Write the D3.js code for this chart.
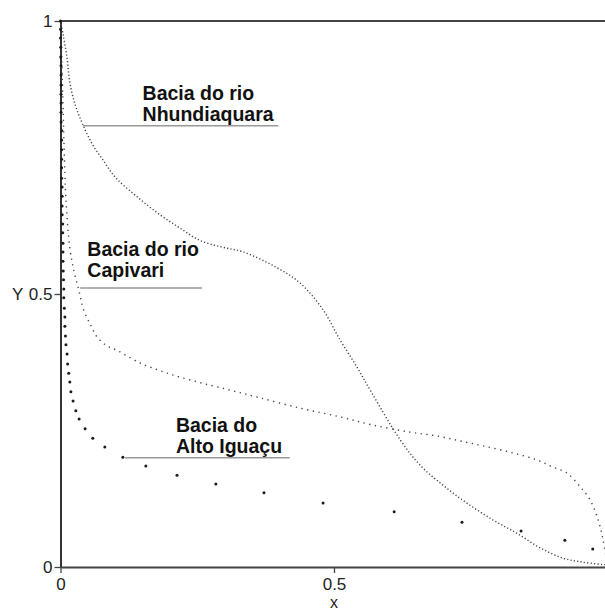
<!DOCTYPE html>
<html>
<head>
<meta charset="utf-8">
<script src="https://cdn.jsdelivr.net/npm/d3@7"></script>
<style>
  html, body { margin: 0; padding: 0; background: #fff; }
  svg { display: block; }
  text { font-family: "Liberation Sans", Arial, sans-serif; }
</style>
</head>
<body>
<div id="chart"></div>
<script>
// ---- Data ----
const nhundiaquara = [
  [0,1],[0.005,0.974],[0.012,0.932],[0.017,0.888],[0.027,0.846],[0.041,0.810],
  [0.059,0.773],[0.078,0.745],[0.100,0.714],[0.140,0.678],[0.182,0.645],[0.218,0.621],
  [0.255,0.598],[0.295,0.586],[0.334,0.577],[0.396,0.548],[0.438,0.520],[0.480,0.471],
  [0.511,0.416],[0.542,0.366],[0.569,0.319],[0.621,0.233],[0.657,0.187],[0.699,0.150],
  [0.743,0.117],[0.791,0.086],[0.834,0.062],[0.877,0.035],[0.919,0.016],[0.955,0.009],
  [0.995,0.004]
];
const capivari = [
  [0,1],[0.002,0.94],[0.004,0.87],[0.006,0.79],[0.008,0.72],[0.010,0.672],
  [0.017,0.585],[0.025,0.540],[0.034,0.505],[0.042,0.472],[0.055,0.443],[0.067,0.421],
  [0.085,0.405],[0.103,0.397],[0.145,0.374],[0.195,0.355],[0.250,0.339],[0.310,0.324],
  [0.364,0.310],[0.438,0.291],[0.511,0.275],[0.571,0.260],[0.639,0.247],[0.688,0.240],
  [0.730,0.231],[0.772,0.222],[0.827,0.209],[0.871,0.196],[0.900,0.183],[0.926,0.172],
  [0.950,0.147],[0.968,0.123],[0.983,0.086],[0.992,0.049],[1.0,0.0]
];
const altoIguacu = [
  [0,1],[0,0.985],[0,0.969],[0.0005,0.952],[0.0005,0.934],[0.001,0.918],[0.001,0.901],
  [0.001,0.883],[0.001,0.866],[0.001,0.850],[0.001,0.833],[0.001,0.815],[0.002,0.799],
  [0.002,0.782],[0.002,0.764],[0.002,0.747],[0.002,0.731],[0.002,0.712],[0.003,0.696],
  [0.003,0.679],[0.003,0.661],[0.003,0.645],[0.004,0.628],[0.004,0.612],[0.0045,0.593],
  [0.0045,0.577],[0.0045,0.560],[0.005,0.542],[0.0055,0.526],[0.006,0.509],[0.006,0.493],
  [0.007,0.474],[0.008,0.458],[0.008,0.441],[0.009,0.423],[0.010,0.407],[0.012,0.390],
  [0.013,0.372],[0.015,0.355],[0.017,0.339],[0.019,0.321],[0.023,0.304],[0.028,0.286],
  [0.034,0.271],[0.045,0.253],[0.059,0.236],[0.081,0.220],[0.114,0.201],[0.156,0.185],
  [0.213,0.168],[0.284,0.152],[0.372,0.136],[0.480,0.117],[0.610,0.101],[0.734,0.082],
  [0.842,0.066],[0.922,0.049],[0.973,0.033]
];
const xTicks = [0, 0.5];
const xTickLabels = ["0", "0.5"];
const yTicks = [0, 0.5, 1];
const yTickLabels = ["0", "0.5", "1"];
const labels = [
  { lines: ["Bacia do rio", "Nhundiaquara"], x: 0.150, y: 0.855, lx0: 0.041, lx1: 0.398, ly: 0.808 },
  { lines: ["Bacia do rio", "Capivari"],     x: 0.049, y: 0.570, lx0: 0.036, lx1: 0.259, ly: 0.511 },
  { lines: ["Bacia do", "Alto Iguaçu"],      x: 0.211, y: 0.247, lx0: 0.118, lx1: 0.419, ly: 0.200 }
];

// ---- Layout ----
const W = 605, H = 614;
const svg = d3.select("#chart").append("svg").attr("width", W).attr("height", H);

const x = d3.scaleLinear().domain([0, 1]).range([60.5, 607.5]);
const y = d3.scaleLinear().domain([0, 1]).range([567, 21]);

// frame top line
svg.append("line")
  .attr("x1", x(0)).attr("x2", x(1)).attr("y1", y(1)).attr("y2", y(1))
  .attr("stroke", "#444").attr("stroke-width", 2);

// axes
const xAxis = d3.axisBottom(x).tickValues(xTicks).tickFormat((d, i) => xTickLabels[i]).tickSize(6).tickSizeOuter(0);
const gx = svg.append("g").attr("transform", `translate(0,${y(0)})`).call(xAxis);
gx.select(".domain").attr("stroke", "#444").attr("stroke-width", 2);
gx.selectAll(".tick line").attr("stroke", "#444").attr("stroke-width", 1.3);
gx.selectAll(".tick text").attr("font-size", 17).attr("fill", "#222").attr("dy", "0.85em")
  .style("font-family", "Liberation Sans, Arial, sans-serif");

const yAxis = d3.axisLeft(y).tickValues(yTicks).tickFormat((d, i) => yTickLabels[i]).tickSize(6).tickSizeOuter(0);
const gy = svg.append("g").attr("transform", `translate(${x(0)},0)`).call(yAxis);
gy.select(".domain").attr("stroke", "#333").attr("stroke-width", 2);
gy.selectAll(".tick line").attr("stroke", "#444").attr("stroke-width", 1.3);
gy.selectAll(".tick text").attr("font-size", 17).attr("fill", "#222").attr("x", -8)
  .style("font-family", "Liberation Sans, Arial, sans-serif");

// axis titles
svg.append("text").attr("x", 12).attr("y", y(0.5)).attr("dy", "0.35em")
  .attr("font-size", 17).attr("fill", "#222").text("Y");
svg.append("text").attr("x", x(0.5)).attr("y", 608).attr("text-anchor", "middle")
  .attr("font-size", 16).attr("fill", "#222").text("x");

// curves
const line = d3.line().x(d => x(d[0])).y(d => y(d[1])).curve(d3.curveCatmullRom.alpha(0.5));

svg.append("path").datum(nhundiaquara).attr("d", line)
  .attr("fill", "none").attr("stroke", "#444").attr("stroke-width", 1.4)
  .attr("stroke-dasharray", "1.2 2.2");

svg.append("path").datum(capivari).attr("d", line)
  .attr("fill", "none").attr("stroke", "#444").attr("stroke-width", 1.4)
  .attr("stroke-dasharray", "1.3 4.5");

svg.selectAll("circle.alto").data(altoIguacu).enter().append("circle")
  .attr("class", "alto")
  .attr("cx", d => x(d[0])).attr("cy", d => y(d[1])).attr("r", 1.5)
  .attr("fill", "#1a1a1a");

// annotations
labels.forEach(l => {
  svg.append("line")
    .attr("x1", x(l.lx0)).attr("x2", x(l.lx1)).attr("y1", y(l.ly)).attr("y2", y(l.ly))
    .attr("stroke", "#999").attr("stroke-width", 1.5);
  const t = svg.append("text").attr("x", x(l.x)).attr("y", y(l.y))
    .attr("font-size", 19.5).attr("font-weight", "bold").attr("fill", "#111");
  l.lines.forEach((s, i) => {
    t.append("tspan").attr("x", x(l.x)).attr("dy", i === 0 ? 0 : 21).text(s);
  });
});
</script>
</body>
</html>
